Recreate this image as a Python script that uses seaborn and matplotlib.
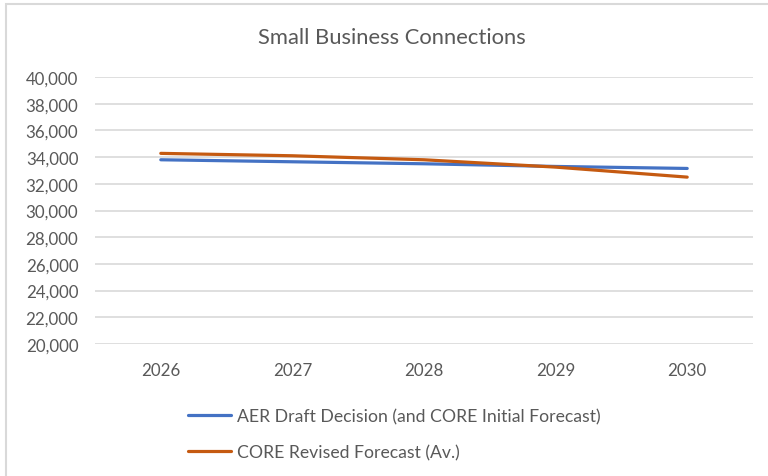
import matplotlib
matplotlib.use("Agg")
import matplotlib.pyplot as plt
from matplotlib.patches import Rectangle
import pandas as pd
import seaborn as sns

years = ["2026", "2027", "2028", "2029", "2030"]
aer_draft = [33800, 33650, 33500, 33300, 33150]
core_revised = [34280, 34100, 33800, 33250, 32500]
series_names = ["AER Draft Decision (and CORE Initial Forecast)", "CORE Revised Forecast (Av.)"]
y_ticks = list(range(20000, 40001, 2000))

sns.set_theme(style="white")
plt.rcParams["font.family"] = ["Lato", "DejaVu Sans"]

df = pd.DataFrame({
    "pos": list(range(len(years))) * 2,
    "value": aer_draft + core_revised,
    "series": [series_names[0]] * len(years) + [series_names[1]] * len(years),
})

text_color = "#595959"
palette = {series_names[0]: "#4472C4", series_names[1]: "#C55A11"}

fig = plt.figure(figsize=(7.68, 4.77), dpi=100)
ax = fig.add_axes([95 / 768, 1 - 345 / 477, (753 - 95) / 768, (345 - 78) / 477])

sns.lineplot(data=df, x="pos", y="value", hue="series", palette=palette,
             linewidth=2.3, ax=ax, legend=False)

ax.set_xlim(-0.5, len(years) - 0.5)
ax.set_ylim(20000, 40000)
ax.set_yticks(y_ticks)
ax.set_yticklabels([f"{v:,}" for v in y_ticks], color=text_color, fontsize=12.2)
ax.set_xticks(range(len(years)))
ax.set_xticklabels(years, color=text_color, fontsize=12.2)
ax.tick_params(axis="y", length=0, pad=12)
ax.tick_params(axis="x", length=0, pad=13)
ax.set_xlabel("")
ax.set_ylabel("")
ax.grid(axis="y", color="#D9D9D9", linewidth=1.2)
ax.grid(axis="x", visible=False)
for s in ax.spines.values():
    s.set_visible(False)

fig.text(392 / 768, 1 - 38 / 477, "Small Business Connections", ha="center", va="center",
         color=text_color, fontsize=15.8)

# outer chart frame
fig.patches.append(Rectangle((6 / 768, -0.05), 1.2, 1.05 - 5 / 477, transform=fig.transFigure,
                             fill=False, edgecolor="#D9D9D9", linewidth=1.5))

handles = [plt.Line2D([], [], color=palette[n], linewidth=2.3) for n in series_names]
fig.legend(handles, series_names, loc="upper left", bbox_to_anchor=(181 / 768, 1 - 402 / 477),
           frameon=False, fontsize=12.7, handlelength=2.45, handletextpad=0.3,
           labelspacing=1.15, labelcolor=text_color, borderaxespad=0)

fig.savefig("out.png", dpi=100)
